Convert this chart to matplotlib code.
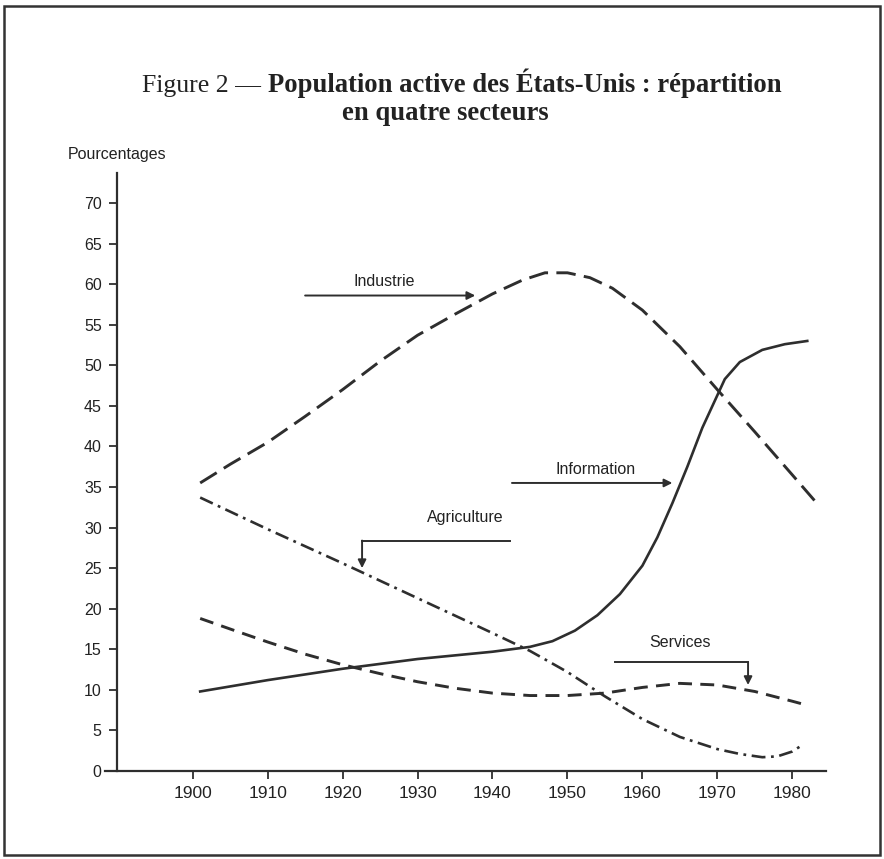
import matplotlib.pyplot as plt
from matplotlib.patches import Rectangle

plt.rcParams['lines.scale_dashes'] = False

# values (year, percent)
ind_years = [1901, 1905, 1910, 1915, 1920, 1925, 1930, 1935, 1940, 1944, 1947, 1950, 1953, 1956, 1960, 1965, 1970, 1975, 1980, 1983]
ind_vals = [35.5, 37.8, 40.5, 43.7, 47.0, 50.5, 53.7, 56.3, 58.8, 60.5, 61.4, 61.4, 60.8, 59.5, 56.8, 52.3, 47.0, 41.8, 36.5, 33.3]

info_years = [1901, 1910, 1920, 1930, 1940, 1945, 1948, 1951, 1954, 1957, 1960, 1962, 1964, 1966, 1968, 1970, 1971, 1973, 1976, 1979, 1982]
info_vals = [9.8, 11.2, 12.6, 13.8, 14.7, 15.3, 16.0, 17.3, 19.2, 21.8, 25.3, 28.8, 33.0, 37.5, 42.3, 46.3, 48.3, 50.4, 51.9, 52.6, 53.0]

agr_years = [1901, 1910, 1920, 1930, 1940, 1945, 1950, 1955, 1960, 1965, 1970, 1973, 1976, 1978, 1980, 1981.5]
agr_vals = [33.7, 29.8, 25.6, 21.3, 17.0, 14.8, 12.2, 9.2, 6.4, 4.2, 2.7, 2.1, 1.7, 1.8, 2.4, 3.3]

serv_years = [1901, 1905, 1910, 1915, 1920, 1925, 1930, 1935, 1940, 1945, 1950, 1955, 1960, 1965, 1970, 1975, 1980, 1982]
serv_vals = [18.8, 17.5, 15.9, 14.4, 13.1, 12.0, 11.0, 10.2, 9.6, 9.3, 9.3, 9.6, 10.3, 10.8, 10.6, 9.8, 8.6, 8.1]

xticks = [1900, 1910, 1920, 1930, 1940, 1950, 1960, 1970, 1980]
yticks = list(range(0, 71, 5))

ink = '#2e2e2e'

fig = plt.figure(figsize=(8.84, 8.59), dpi=100)
ax = fig.add_axes([105 / 884, 88 / 859, 721 / 884, 598 / 859])

ax.plot(ind_years, ind_vals, color=ink, lw=2.1, linestyle=(0, (14, 6)))
ax.plot(info_years, info_vals, color=ink, lw=1.9)
ax.plot(agr_years, agr_vals, color=ink, lw=1.9, linestyle=(0, (10, 4, 2, 4)))
ax.plot(serv_years, serv_vals, color=ink, lw=2.1, linestyle=(0, (10, 6)))

ax.set_xlim(1888.3, 1984.5)
ax.set_ylim(0, 73.7)
ax.spines['top'].set_visible(False)
ax.spines['right'].set_visible(False)
ax.spines['left'].set_position(('data', 1889.9))
for s in ['left', 'bottom']:
    ax.spines[s].set_color(ink)
    ax.spines[s].set_linewidth(1.6)

ax.set_xticks(xticks)
ax.set_yticks(yticks)
ax.tick_params(axis='both', colors=ink, length=6, width=1.3, pad=5)
for lab in ax.get_xticklabels():
    lab.set_fontfamily('Liberation Sans')
    lab.set_fontsize(12.5)
    lab.set_color('#222222')
for lab in ax.get_yticklabels():
    lab.set_fontfamily('Liberation Sans')
    lab.set_fontsize(11.5)
    lab.set_color('#222222')

# labels with arrows
arrow = dict(arrowstyle='-|>', color=ink, lw=1.4, mutation_scale=12, shrinkA=0, shrinkB=0)
txt = dict(fontfamily='Liberation Sans', fontsize=11.5, color='#222222', ha='center', va='center')

ax.annotate('', xy=(1937.7, 58.6), xytext=(1915.0, 58.6), arrowprops=arrow)
ax.text(1925.6, 60.3, 'Industrie', **txt)

ax.annotate('', xy=(1964.0, 35.5), xytext=(1942.6, 35.5), arrowprops=arrow)
ax.text(1953.7, 37.2, 'Information', **txt)

ax.plot([1942.3, 1922.6], [28.4, 28.4], color=ink, lw=1.4)
ax.annotate('', xy=(1922.6, 25.0), xytext=(1922.6, 28.4), arrowprops=arrow)
ax.text(1936.4, 31.2, 'Agriculture', **txt)

ax.plot([1956.3, 1974.1], [13.4, 13.4], color=ink, lw=1.4)
ax.annotate('', xy=(1974.1, 10.6), xytext=(1974.1, 13.4), arrowprops=arrow)
ax.text(1965.0, 15.8, 'Services', **txt)

fig.text(68 / 884, 1 - 155 / 859, 'Pourcentages', fontfamily='Liberation Sans',
         fontsize=11.5, color='#222222', ha='left', va='center')

# title: normal prefix + bold part, on a shared baseline
fig.text(268 / 884, 1 - 92 / 859, 'Figure 2 — ', fontfamily='Liberation Serif',
         fontsize=18.5, color='#222222', ha='right', va='baseline')
fig.text(268 / 884, 1 - 92 / 859, 'Population active des États-Unis : répartition',
         fontfamily='Liberation Serif', fontweight='bold', fontsize=19.2,
         color='#222222', ha='left', va='baseline')
fig.text(445 / 884, 1 - 120 / 859, 'en quatre secteurs', fontfamily='Liberation Serif',
         fontweight='bold', fontsize=19.2, color='#222222', ha='center', va='baseline')

# frame around the figure
fig.patches.append(Rectangle((4 / 884, 4 / 859), 876 / 884, 849 / 859, transform=fig.transFigure,
                             fill=False, edgecolor='#333333', lw=1.8))

fig.savefig('out.png', dpi=100)
